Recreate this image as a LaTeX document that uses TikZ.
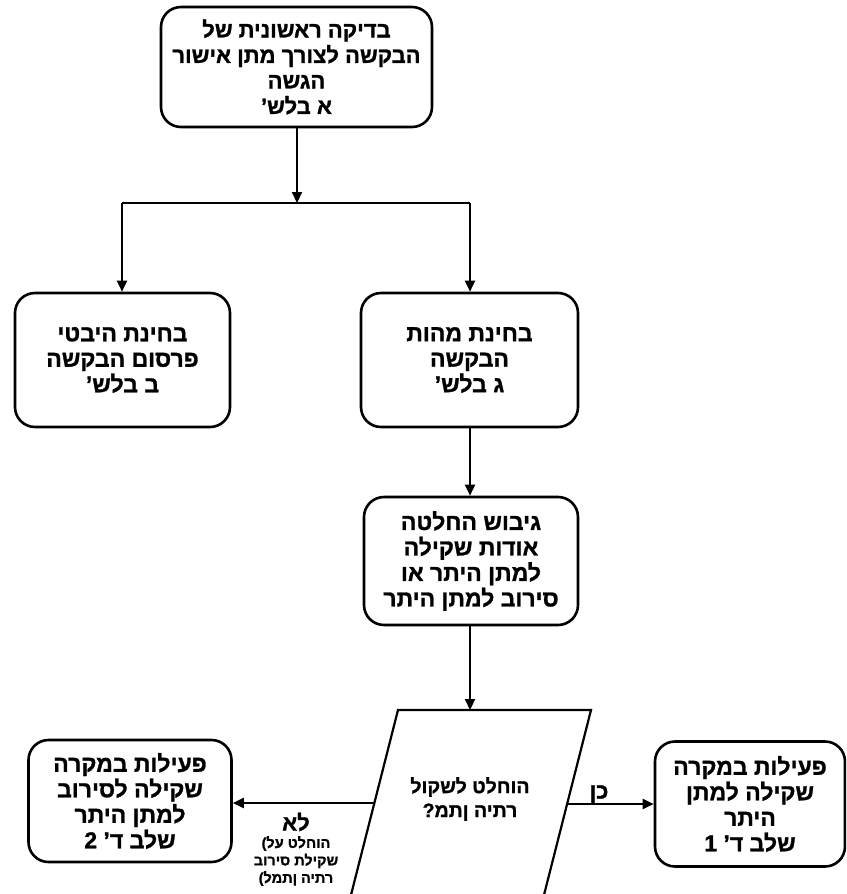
\documentclass[tikz,border=0pt]{standalone}
\usepackage{fontspec}
\newfontfamily\hebfont[Script=Hebrew, BoldFont={Liberation Sans Bold}, BoldFeatures={FakeBold=1.2}]{Liberation Sans}
\TeXXeTstate=1
\usetikzlibrary{arrows.meta}
\newcommand{\RL}[1]{\beginR #1\endR}
\begin{document}
\begin{tikzpicture}[x=1pt,y=-1pt,
  box/.style={draw, line width=2.6pt, rounded corners=20pt, align=center,
    font=\hebfont\bfseries\fontsize{23}{25.5}\selectfont, inner sep=0pt},
  arr/.style={line width=2.2pt, -{Triangle[length=11pt,width=10pt]}},
  conn/.style={line width=2.2pt},
  lbl/.style={font=\hebfont\bfseries\fontsize{22}{24}\selectfont, inner sep=0pt},
  small/.style={font=\hebfont\bfseries\fontsize{14.5}{17.5}\selectfont, align=center, inner sep=0pt}
]
\useasboundingbox (0,0) rectangle (846,894);
\clip (0,0) rectangle (846,894);

\node[box, minimum width=271pt, minimum height=120pt, font=\hebfont\bfseries\fontsize{22}{25.5}\selectfont] (top) at (296.5,67)
  {\RL{בדיקה ראשונית של}\\ \RL{הבקשה לצורך מתן אישור}\\ \RL{הגשה}\\ \RL{א בלש’}};
\node[box, minimum width=215pt, minimum height=134pt] (left) at (122.5,360)
  {\RL{בחינת היבטי}\\ \RL{פרסום הבקשה}\\ \RL{ב בלש’}};
\node[box, minimum width=217pt, minimum height=134pt] (mid) at (469.5,360)
  {\RL{בחינת מהות}\\ \RL{הבקשה}\\ \RL{ג בלש’}};
\node[box, minimum width=214pt, minimum height=128pt] (gib) at (471,561)
  {\RL{גיבוש החלטה}\\ \RL{אודות שקילה}\\ \RL{למתן היתר או}\\ \RL{סירוב למתן היתר}};
\node[box, minimum width=203pt, minimum height=122pt] (bl) at (130,801)
  {\RL{פעילות במקרה}\\ \RL{שקילה לסירוב}\\ \RL{למתן היתר}\\ \RL{שלב ד’ 2}};
\node[box, minimum width=190pt, minimum height=125pt] (br) at (750,804)
  {\RL{פעילות במקרה}\\ \RL{שקילה למתן}\\ \RL{היתר}\\ \RL{שלב ד’ 1}};

% decision parallelogram
\coordinate (pTL) at (398,710);
\coordinate (pTR) at (591,710);
\coordinate (pBR) at (530,950);
\coordinate (pBL) at (337,950);
\draw[line width=2.2pt, line join=miter] (pBL) -- (pTL) -- (pTR) -- (pBR);
\coordinate (pTop) at (470,710);
\coordinate (pL) at (374,803);
\coordinate (pR) at (568,804);
\node[box, draw=none, align=center, font=\hebfont\bfseries\fontsize{19.5}{24}\selectfont] (dec) at (470,799)
  {\RL{הוחלט לשקול}\\ \RL{רתיה ןתמ?}};

% junction
\coordinate (J) at (297,203);
\coordinate (JL) at (122,203);
\coordinate (JR) at (470,203);

\draw[arr] (top.south -| J) -- (J);
\draw[conn] (JL) -- (JR);
\draw[arr] (JL) -- (JL |- left.north);
\draw[arr] (JR) -- (JR |- mid.north);
\draw[arr] (mid.south -| JR) -- (gib.north -| JR);
\draw[arr] (gib.south -| pTop) -- (pTop);
\draw[arr] (pL) -- (pL -| bl.east);
\draw[arr] (pR) -- (pR -| br.west);

\node[lbl, anchor=south] (yes) at (599,803) {\RL{כן}};
\node[lbl] (no) at (296,822) {\RL{לא}};
\node[small] (nolbl) at (296,861) {\RL{הוחלט על)}\\ \RL{שקילת סירוב}\\ \RL{רתיה ןתמל)}};
\end{tikzpicture}
\end{document}
